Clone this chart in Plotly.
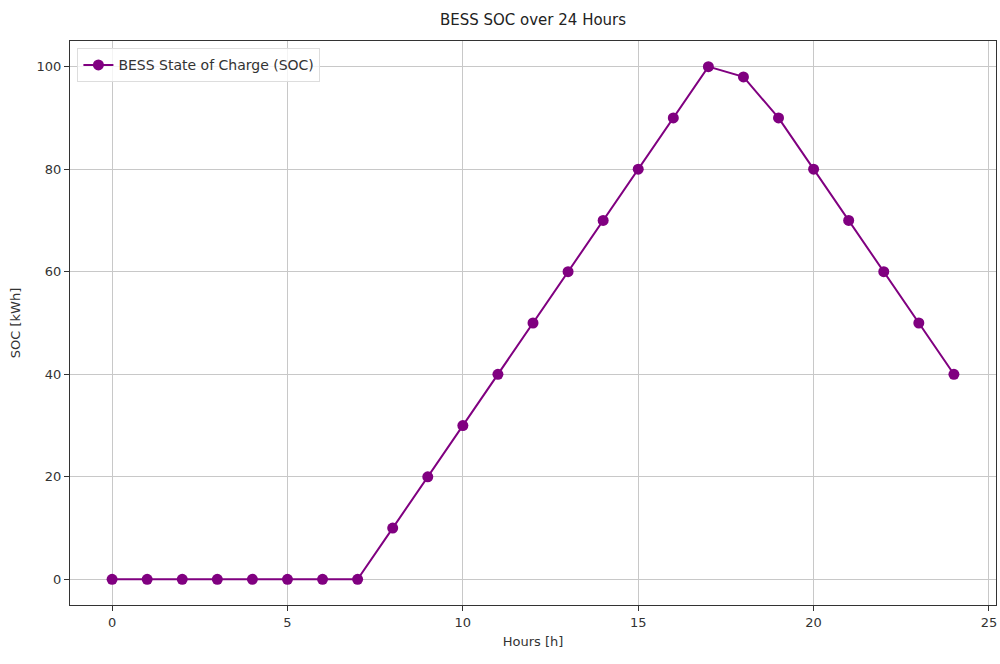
import plotly.graph_objects as go

hours = list(range(25))
soc = [0, 0, 0, 0, 0, 0, 0, 0, 10, 20, 30, 40, 50, 60, 70, 80, 90, 100, 98, 90, 80, 70, 60, 50, 40]
x_ticks = [0, 5, 10, 15, 20, 25]
y_ticks = [0, 20, 40, 60, 80, 100]

fig = go.Figure()
fig.add_trace(go.Scatter(
    x=hours, y=soc, mode="lines+markers",
    name="BESS State of Charge (SOC)",
    line=dict(color="purple", width=2),
    marker=dict(color="purple", size=11),
))

axis_common = dict(
    showline=True, linecolor="#333333", linewidth=1.2, mirror=True,
    ticks="outside", ticklen=5, tickcolor="#333333",
    showgrid=True, gridcolor="#c8c8c8", gridwidth=1, zeroline=False,
    tickfont=dict(family="DejaVu Sans", size=13, color="#333333"),
)

fig.update_layout(
    width=1000, height=664,
    margin=dict(l=70, r=4, t=41, b=59),
    paper_bgcolor="white", plot_bgcolor="white",
    font=dict(family="DejaVu Sans", color="#333333"),
    title=dict(text="BESS SOC over 24 Hours", x=0.533, xanchor="center",
               y=0.97, yanchor="middle", font=dict(size=15, color="#222222")),
    xaxis=dict(range=[-1.2, 25.2], tickvals=x_ticks,
               title=dict(text="Hours [h]", font=dict(size=13), standoff=8), **axis_common),
    yaxis=dict(range=[-5, 105], tickvals=y_ticks,
               title=dict(text="SOC [kWh]", font=dict(size=13), standoff=12), **axis_common),
    showlegend=True,
    legend=dict(x=0.008, y=0.987, xanchor="left", yanchor="top",
                bgcolor="rgba(255,255,255,0.8)", bordercolor="#dddddd", borderwidth=1,
                font=dict(size=14, color="#333333")),
)

fig.write_html("out.html")
